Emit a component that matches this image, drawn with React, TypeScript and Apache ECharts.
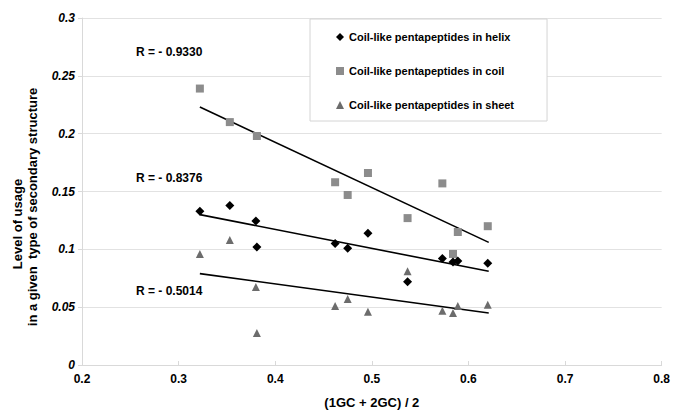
import React, { useEffect, useRef } from "react";
import * as echarts from "echarts";

const helixX = [0.322, 0.353, 0.380, 0.381, 0.462, 0.475, 0.496, 0.537, 0.573, 0.584, 0.589, 0.620];
const helixY = [0.133, 0.138, 0.1245, 0.102, 0.105, 0.101, 0.114, 0.072, 0.092, 0.089, 0.090, 0.088];

const coilX = [0.322, 0.353, 0.381, 0.462, 0.475, 0.496, 0.537, 0.573, 0.584, 0.589, 0.620];
const coilY = [0.239, 0.210, 0.198, 0.158, 0.147, 0.166, 0.127, 0.157, 0.096, 0.115, 0.120];

const sheetX = [0.322, 0.353, 0.380, 0.381, 0.462, 0.475, 0.496, 0.537, 0.573, 0.584, 0.589, 0.620];
const sheetY = [0.096, 0.108, 0.0674, 0.0277, 0.051, 0.057, 0.046, 0.081, 0.047, 0.045, 0.051, 0.052];

// trend line end points (x start/end, y start/end)
const trendX = [0.322, 0.621];
const helixTrend = [0.130, 0.081];
const coilTrend = [0.223, 0.106];
const sheetTrend = [0.079, 0.045];

const rLabels = ["R = - 0.9330", "R = - 0.8376", "R = - 0.5014"];
const seriesNames = [
  "Coil-like pentapeptides in helix",
  "Coil-like pentapeptides in coil",
  "Coil-like pentapeptides in sheet",
];

const FONT = "'Liberation Sans', Arial, sans-serif";

function zip(xs: number[], ys: number[]) {
  return xs.map((x, i) => [x, ys[i]]);
}

export default function App() {
  const ref = useRef<HTMLDivElement>(null);
  useEffect(() => {
    if (!ref.current) return;
    const chart = echarts.init(ref.current, undefined, { renderer: "svg" });
    const trendStyle = { color: "#000", width: 1.6 };
    chart.setOption({
      animation: false,
      backgroundColor: "#fff",
      textStyle: { fontFamily: FONT },
      grid: { left: 82, right: 11, top: 18, bottom: 46, containLabel: false },
      legend: {
        data: [
          { name: seriesNames[0], icon: "diamond" },
          { name: seriesNames[1], icon: "rect" },
          { name: seriesNames[2], icon: "triangle" },
        ],
        orient: "vertical",
        left: 310,
        top: 19,
        padding: [11, 33, 9, 26],
        itemGap: 20,
        itemWidth: 8,
        itemHeight: 8,
        borderColor: "#d4d4d4",
        borderWidth: 1,
        backgroundColor: "#fff",
        selectedMode: false,
        textStyle: { fontSize: 11, fontWeight: "bold", color: "#000", fontFamily: FONT, lineHeight: 14 },
      },
      xAxis: {
        type: "value",
        min: 0.2,
        max: 0.8,
        interval: 0.1,
        name: "(1GC + 2GC) / 2",
        nameLocation: "middle",
        nameGap: 31,
        nameTextStyle: { fontSize: 13, fontWeight: "bold", color: "#000", fontFamily: FONT },
        axisLine: { lineStyle: { color: "#d9d9d9" } },
        axisTick: { show: true, inside: true, length: 4, lineStyle: { color: "#d9d9d9" } },
        splitLine: { show: false },
        axisLabel: {
          fontSize: 12,
          fontWeight: "bold",
          color: "#000",
          margin: 8,
          fontFamily: FONT,
          formatter: (v: number) => v.toFixed(1),
        },
      },
      yAxis: {
        type: "value",
        min: 0,
        max: 0.3,
        interval: 0.05,
        axisLine: { show: true, lineStyle: { color: "#d9d9d9" } },
        axisTick: { show: true, length: 4, lineStyle: { color: "#d9d9d9" } },
        splitLine: { show: true, lineStyle: { color: "#e2e2e2" } },
        axisLabel: {
          fontSize: 12,
          fontWeight: "bold",
          fontStyle: "italic",
          color: "#000",
          margin: 7,
          fontFamily: FONT,
          formatter: (v: number) => String(+v.toFixed(2)),
        },
      },
      graphic: [
        {
          type: "text",
          x: 17,
          y: 224,
          rotation: Math.PI / 2,
          style: {
            text: "Level of usage",
            font: `bold 13px ${FONT}`,
            fill: "#000",
            textAlign: "center",
            textVerticalAlign: "middle",
          },
        },
        {
          type: "text",
          x: 32,
          y: 207,
          rotation: Math.PI / 2,
          style: {
            text: "in a given  type of secondary structure",
            font: `bold 13px ${FONT}`,
            fill: "#000",
            textAlign: "center",
            textVerticalAlign: "middle",
          },
        },
        ...rLabels.map((t, i) => ({
          type: "text",
          x: 136,
          y: [52, 178, 291][i],
          style: {
            text: t,
            font: `bold 12px ${FONT}`,
            fill: "#000",
            textAlign: "left",
            textVerticalAlign: "middle",
          },
        })),
      ],
      series: [
        {
          name: "helixTrend",
          type: "line",
          data: zip(trendX, helixTrend),
          showSymbol: false,
          lineStyle: trendStyle,
          z: 1,
          silent: true,
        },
        {
          name: "coilTrend",
          type: "line",
          data: zip(trendX, coilTrend),
          showSymbol: false,
          lineStyle: trendStyle,
          z: 1,
          silent: true,
        },
        {
          name: "sheetTrend",
          type: "line",
          data: zip(trendX, sheetTrend),
          showSymbol: false,
          lineStyle: trendStyle,
          z: 1,
          silent: true,
        },
        {
          name: seriesNames[0],
          type: "scatter",
          symbol: "diamond",
          symbolSize: 9,
          itemStyle: { color: "#000000", opacity: 1 },
          data: zip(helixX, helixY),
          z: 3,
        },
        {
          name: seriesNames[1],
          type: "scatter",
          symbol: "rect",
          symbolSize: 8,
          itemStyle: { color: "#8c8c8c", opacity: 1 },
          data: zip(coilX, coilY),
          z: 2,
        },
        {
          name: seriesNames[2],
          type: "scatter",
          symbol: "triangle",
          symbolSize: 8,
          itemStyle: { color: "#6c6c6c", opacity: 1 },
          data: zip(sheetX, sheetY),
          z: 2,
        },
      ],
    });
    return () => chart.dispose();
  }, []);
  return (
    <div
      ref={ref}
      style={{ position: "fixed", left: 0, top: 0, width: 673, height: 414, background: "#fff" }}
    />
  );
}
